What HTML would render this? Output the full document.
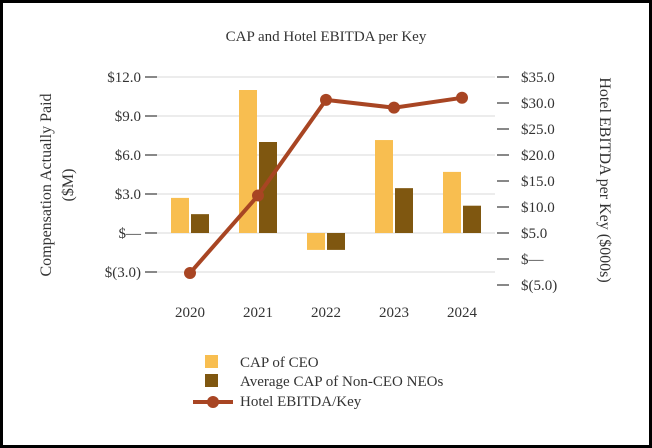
<!DOCTYPE html>
<html><head><meta charset="utf-8"><style>
body{margin:0;background:#fff}
svg{display:block;font-family:"Liberation Serif",serif}
</style></head><body>
<svg width="652" height="448" id="c">
<rect x="1.5" y="1.5" width="649" height="445" fill="#fff" stroke="#000" stroke-width="3"/>
<text x="326" y="41" text-anchor="middle" font-size="15" fill="#333">CAP and Hotel EBITDA per Key</text>
<g id="grid"></g><g id="bars"></g><g id="line"></g><g id="axes"></g>
<text transform="translate(51,185) rotate(-90)" text-anchor="middle" font-size="16" fill="#333"><tspan x="0" dy="0">Compensation Actually Paid</tspan><tspan x="0" dy="22">($M)</tspan></text>
<text transform="translate(600,180) rotate(90)" text-anchor="middle" font-size="16" fill="#333">Hotel EBITDA per Key ($000s)</text>
<g>
<rect x="205" y="355" width="13" height="13" fill="#f8be50"/>
<text x="240" y="367" font-size="15" fill="#333">CAP of CEO</text>
<rect x="205" y="374" width="13" height="13" fill="#7f5710"/>
<text x="240" y="386" font-size="15" fill="#333">Average CAP of Non-CEO NEOs</text>
<line x1="193" y1="402" x2="233" y2="402" stroke="#a84523" stroke-width="4"/>
<circle cx="213" cy="402" r="6" fill="#a84523"/>
<text x="240" y="406" font-size="15" fill="#333">Hotel EBITDA/Key</text>
</g>
</svg>
<script>
const categories=["2020","2021","2022","2023","2024"];
const capCeo=[2.7,11.0,-1.3,7.15,4.7];
const capNeo=[1.45,7.0,-1.3,3.45,2.1];
const ebitda=[-2.7,12.2,30.6,29.1,31.0];
const leftTicks=[12,9,6,3,0,-3];
const leftLabels=["$12.0","$9.0","$6.0","$3.0","$—","$(3.0)"];
const rightTicks=[35,30,25,20,15,10,5,0,-5];
const rightLabels=["$35.0","$30.0","$25.0","$20.0","$15.0","$10.0","$5.0","$—","$(5.0)"];
const NS="http://www.w3.org/2000/svg";
const yL=v=>233-v*13;
const yR=v=>259-v*5.2;
const xC=i=>190+i*68;
function mk(t,a,p){const e=document.createElementNS(NS,t);for(const k in a)e.setAttribute(k,a[k]);document.getElementById(p).appendChild(e);return e;}
leftTicks.forEach((v,i)=>{
 const g=mk('line',{x1:145,x2:495,y1:yL(v),y2:yL(v),stroke:'#e6e6e6','stroke-width':1.5},'grid');
 
 
 const t=mk('line',{x1:145,x2:157,y1:yL(v),y2:yL(v),stroke:'#888','stroke-width':2},'axes');
 
 
 const l=mk('text',{x:141,y:yL(v)+5,'text-anchor':'end','font-size':15,fill:'#333'},'axes');
 l.textContent=leftLabels[i];
 
 
});
rightTicks.forEach((v,i)=>{
 const t=mk('line',{x1:497,x2:509,y1:yR(v),y2:yR(v),stroke:'#888','stroke-width':2},'axes');
 
 
 const l=mk('text',{x:521,y:yR(v)+5,'font-size':15,fill:'#333'},'axes');
 l.textContent=rightLabels[i];
 
 
});
categories.forEach((c,i)=>{
 const x=xC(i);
 [[capCeo[i],'#f8be50',x-19,'bar-ceo-'+c],[capNeo[i],'#7f5710',x+1,'bar-neo-'+c]].forEach(([v,col,bx,n])=>{
  const b=mk('rect',{x:bx,width:18,y:Math.min(yL(v),yL(0)),height:Math.abs(yL(v)-yL(0)),fill:col},'bars');
  
  
 });
 const l=mk('text',{x:x,y:317,'text-anchor':'middle','font-size':15,fill:'#333'},'axes');
 l.textContent=c;
 
 
});
const pl=mk('polyline',{points:ebitda.map((v,i)=>xC(i)+','+yR(v)).join(' '),fill:'none',stroke:'#a84523','stroke-width':4},'line');


ebitda.forEach((v,i)=>{
 const p=mk('circle',{cx:xC(i),cy:yR(v),r:6,fill:'#a84523'},'line');
 
 
});
</script>
</body></html>
